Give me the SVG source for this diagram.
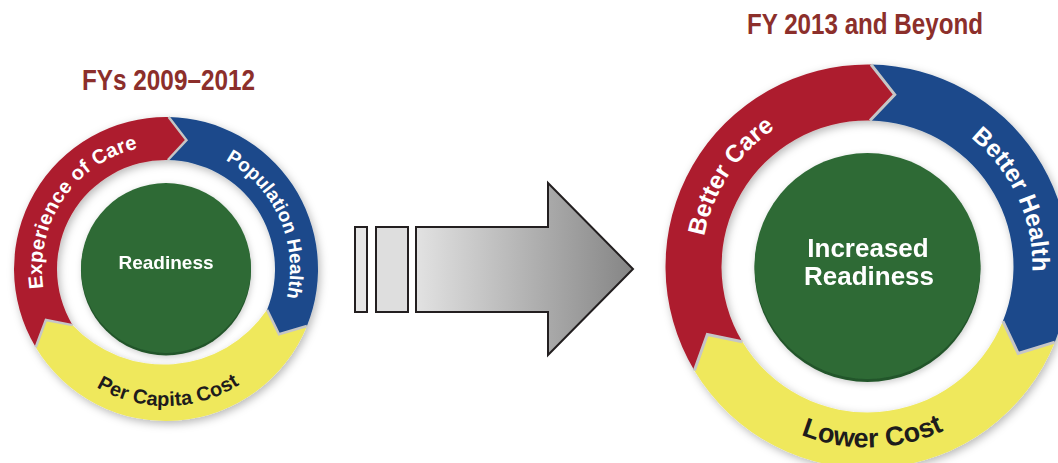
<svg xmlns="http://www.w3.org/2000/svg" width="1058" height="463" viewBox="0 0 1058 463">
<defs>
<style>
.title{font-family:"Liberation Sans",Arial,sans-serif;font-weight:bold;fill:#8c2f2b}
.lbl{font-family:"Liberation Sans",Arial,sans-serif;font-weight:bold}
.w{fill:#ffffff}
.k{fill:#1e1c1c}
.red{fill:#ad1f2f}
.blue{fill:#1b4a8b}
.yellow{fill:#efe85b}
.gdark{fill:#23552a}
.green{fill:#2e6b36}
.join{fill:none;stroke:#c6c6c6;stroke-linejoin:miter}
.bar{stroke:#231f20;stroke-width:2}
</style>
<filter id="sh" x="-20%" y="-20%" width="140%" height="140%">
<feDropShadow dx="2" dy="3" stdDeviation="4" flood-color="#000" flood-opacity="0.28"/>
</filter>
<filter id="sh2" x="-20%" y="-20%" width="140%" height="140%">
<feDropShadow dx="1" dy="2" stdDeviation="3" flood-color="#000" flood-opacity="0.2"/>
</filter>
<linearGradient id="ag" x1="416" y1="0" x2="633" y2="0" gradientUnits="userSpaceOnUse">
<stop offset="0" stop-color="#e2e2e2"/>
<stop offset="1" stop-color="#858585"/>
</linearGradient>
<path id="tpL1" d="M46.80,303.18 A124,124 0 0 1 153.04,145.68"/>
<path id="tpL2" d="M200.18,149.80 A124,124 0 0 1 277.45,323.36"/>
<path id="tpL3" d="M62.60,358.88 A137,137 0 0 0 272.47,355.22"/>
<path id="tpR1" d="M708.50,314.20 A166,166 0 0 1 848.13,101.63"/>
<path id="tpR2" d="M910.90,107.31 A165,165 0 0 1 1016.73,336.88"/>
<path id="tpR3" d="M732.36,386.91 A181,181 0 0 0 1009.52,378.71"/>
</defs>
<rect width="1058" height="463" fill="#ffffff"/>

<g id="title-left"><text class="title" x="82" y="90" font-size="30" textLength="173" lengthAdjust="spacingAndGlyphs">FYs 2009–2012</text></g>
<g id="title-right"><text class="title" x="747" y="34" font-size="29.5" textLength="236" lengthAdjust="spacingAndGlyphs">FY 2013 and Beyond</text></g>

<g id="cycle-left">
<g filter="url(#sh)">
<g id="left-experience-of-care"><path class="red" d="M35.71,347.29 A152,152 0 0 1 168.65,117.02 L186.41,140.11 L167.90,160.02 A109,109 0 0 0 72.57,325.14 L45.88,319.99 Z"/></g>
<g id="left-population-health"><path class="blue" d="M168.65,117.02 A152,152 0 0 1 306.93,325.94 L279.02,334.25 L267.06,309.83 A109,109 0 0 0 167.90,160.02 L186.41,140.11 Z"/></g>
<g id="left-per-capita-cost"><path class="yellow" d="M306.93,325.94 A152,152 0 0 1 35.71,347.29 L45.88,319.99 L72.57,325.14 A125,125 0 0 0 267.06,309.83 L279.02,334.25 Z"/></g>
</g>
<path class="join" stroke-width="2.5" d="M168.65,117.02 L186.41,140.11 L167.90,160.02"/>
<path class="join" stroke-width="2.5" d="M306.93,325.94 L279.02,334.25 L267.06,309.83"/>
<path class="join" stroke-width="2.5" d="M35.71,347.29 L45.88,319.99 L72.57,325.14"/>
<text class="lbl w" font-size="20" letter-spacing="0.25"><textPath href="#tpL1" startOffset="50%" text-anchor="middle">Experience of Care</textPath></text>
<text class="lbl w" font-size="19"><textPath href="#tpL2" startOffset="50%" text-anchor="middle">Population Health</textPath></text>
<text class="lbl k" font-size="20" letter-spacing="0.1"><textPath href="#tpL3" startOffset="50%" text-anchor="middle">Per Capita Cost</textPath></text>
<g id="left-readiness" filter="url(#sh2)">
<circle class="gdark" cx="166" cy="270.5" r="85"/>
<circle class="green" cx="166" cy="268" r="85"/>
<text class="lbl w" x="166" y="269" font-size="19" text-anchor="middle">Readiness</text>
</g>
</g>

<g id="connectors">
<rect class="bar" x="355" y="227" width="12" height="85" fill="#e6e6e6"/>
<rect class="bar" x="376" y="227" width="32" height="85" fill="#dedede"/>
<path class="bar" fill="url(#ag)" d="M416,227 L548,227 L548,183 L633,269 L548,355 L548,312 L416,312 Z"/>
</g>

<g id="cycle-right">
<g filter="url(#sh)">
<g id="right-better-care"><path class="red" d="M694.35,370.54 A202,202 0 0 1 871.03,64.53 L894.72,94.64 L870.05,120.52 A146,146 0 0 0 742.35,341.70 L707.33,334.49 Z"/></g>
<g id="right-better-health"><path class="blue" d="M871.03,64.53 A202,202 0 0 1 1054.79,342.17 L1018.19,353.5 L1002.87,321.19 A146,146 0 0 0 870.05,120.52 L894.72,94.64 Z"/></g>
<g id="right-lower-cost"><path class="yellow" d="M1054.79,342.17 A202,202 0 0 1 694.35,370.54 L707.33,334.49 L742.35,341.70 A146,146 0 0 0 1002.87,321.19 L1018.19,353.5 Z"/></g>
</g>
<path class="join" stroke-width="3" d="M871.03,64.53 L894.72,94.64 L870.05,120.52"/>
<path class="join" stroke-width="3" d="M1054.79,342.17 L1018.19,353.5 L1002.87,321.19"/>
<path class="join" stroke-width="3" d="M694.35,370.54 L707.33,334.49 L742.35,341.70"/>
<text class="lbl w" font-size="24.5"><textPath href="#tpR1" startOffset="50%" text-anchor="middle">Better Care</textPath></text>
<text class="lbl w" font-size="24.5"><textPath href="#tpR2" startOffset="50%" text-anchor="middle">Better Health</textPath></text>
<text class="lbl k" font-size="27"><textPath href="#tpR3" startOffset="50%" text-anchor="middle">Lower Cost</textPath></text>
<g id="right-increased-readiness" filter="url(#sh2)">
<circle class="gdark" cx="867.5" cy="269" r="113"/>
<circle class="green" cx="867.5" cy="266" r="113"/>
<text class="lbl w" x="868" y="257" font-size="26" text-anchor="middle">Increased</text>
<text class="lbl w" x="869" y="285" font-size="26" text-anchor="middle">Readiness</text>
</g>
</g>
</svg>
